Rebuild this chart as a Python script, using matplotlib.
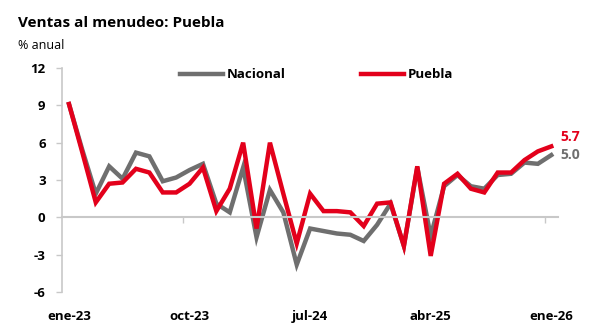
import matplotlib
matplotlib.use("Agg")
import matplotlib.pyplot as plt

plt.rcParams['font.family'] = ['Open Sans', 'DejaVu Sans']

# Retail sales, annual % change, monthly from Jan-2023 to Jan-2026
meses = ["ene", "feb", "mar", "abr", "may", "jun", "jul", "ago", "sep", "oct", "nov", "dic"]
periodos = [f"{meses[m % 12]}-{23 + m // 12}" for m in range(37)]

nacional = [9.1, 5.4, 1.9, 4.1, 3.1, 5.2, 4.9, 2.9, 3.2, 3.8, 4.3, 1.1, 0.4,
            4.0, -1.6, 2.2, 0.4, -3.8, -0.9, -1.1, -1.3, -1.4, -1.9, -0.6, 1.1,
            -2.3, 4.0, -1.5, 2.5, 3.4, 2.5, 2.3, 3.4, 3.5, 4.4, 4.3, 5.0]
puebla = [9.1, 5.2, 1.2, 2.7, 2.8, 3.9, 3.6, 2.0, 2.0, 2.7, 4.0, 0.5, 2.3,
          6.0, -0.9, 6.0, 1.9, -2.1, 1.9, 0.5, 0.5, 0.4, -0.7, 1.1, 1.2,
          -2.3, 4.1, -3.1, 2.7, 3.5, 2.3, 2.0, 3.6, 3.6, 4.6, 5.3, 5.7]

y_ticks = [-6, -3, 0, 3, 6, 9, 12]
label_step = 9

GRIS = "#6f6f6f"
ROJO = "#e3001b"
EJE = "#c8c8c8"

fig = plt.figure(figsize=(6.03, 3.33), dpi=100)
ax = fig.add_axes([0.1033, 0.1231, 0.822, 0.6727])

x = list(range(len(periodos)))
ax.plot(x, nacional, color=GRIS, lw=3.2, label="Nacional", solid_joinstyle="miter")
ax.plot(x, puebla, color=ROJO, lw=3.2, label="Puebla", solid_joinstyle="miter")

ax.set_xlim(-0.5, len(periodos) - 0.5)
ax.set_ylim(y_ticks[0], y_ticks[-1])

# spines: left axis, category axis crossing at zero
for s in ["top", "right"]:
    ax.spines[s].set_visible(False)
ax.spines["left"].set_color(EJE)
ax.spines["left"].set_linewidth(1.2)
ax.spines["bottom"].set_position(("data", 0))
ax.spines["bottom"].set_color(EJE)
ax.spines["bottom"].set_linewidth(1.5)

ax.set_yticks(y_ticks)
ax.set_yticklabels([str(v) for v in y_ticks], fontweight="bold", fontsize=9.5)
ax.tick_params(axis="y", length=4, width=1, color=EJE, pad=8)

# tick marks between categories on the zero line
ax.set_xticks([i - 0.5 for i in range(label_step, len(periodos), label_step)])
ax.set_xticklabels([])
ax.tick_params(axis="x", length=4, width=1, color=EJE, direction="out")

# category labels at the bottom of the plot area
sec = ax.secondary_xaxis(0)
sec.set_xticks(x[::label_step])
sec.set_xticklabels(periodos[::label_step], fontweight="bold", fontsize=9.5)
sec.tick_params(length=0, pad=13)
sec.spines["bottom"].set_visible(False)

# end-of-series value labels
ax.annotate(f"{puebla[-1]:.1f}", (x[-1], puebla[-1]), xytext=(6.5, 6.5),
            textcoords="offset points", color=ROJO, fontweight="bold",
            fontsize=10, va="center", ha="left", annotation_clip=False)
ax.annotate(f"{nacional[-1]:.1f}", (x[-1], nacional[-1]), xytext=(6.5, 0),
            textcoords="offset points", color=GRIS, fontweight="bold",
            fontsize=10, va="center", ha="left", annotation_clip=False)

leg = ax.legend(loc="center left", bbox_to_anchor=(0.2374, 0.969), ncol=2,
                frameon=False, borderpad=0, borderaxespad=0,
                handlelength=3.25, handletextpad=0.3, columnspacing=5.7,
                prop={"weight": "bold", "size": 9.5})

fig.text(0.030, 0.930, "Ventas al menudeo: Puebla", fontsize=11,
         fontweight="bold", ha="left", va="center")
fig.text(0.030, 0.863, "% anual", fontsize=9, ha="left", va="center")

fig.savefig("out.png", dpi=100)
